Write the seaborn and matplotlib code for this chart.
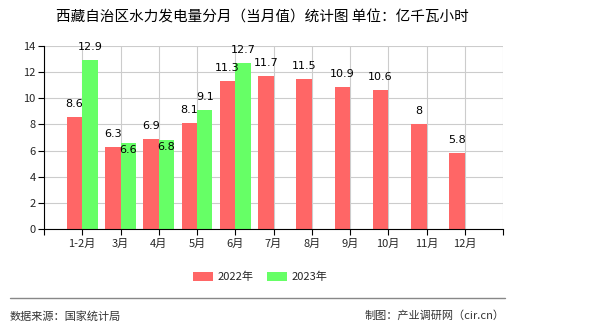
import matplotlib
matplotlib.use("Agg")
import matplotlib.pyplot as plt
import seaborn as sns
import pandas as pd
import numpy as np
from matplotlib.lines import Line2D

categories = ["1-2月", "3月", "4月", "5月", "6月", "7月", "8月", "9月", "10月", "11月", "12月"]
values_2022 = [8.6, 6.3, 6.9, 8.1, 11.3, 11.7, 11.5, 10.9, 10.6, 8, 5.8]
values_2023 = [12.9, 6.6, 6.8, 9.1, 12.7, None, None, None, None, None, None]
series_names = ["2022年", "2023年"]
colors = ["#ff6666", "#66ff66"]

sns.set_theme(style="white")
plt.rcParams['font.family'] = ['Noto Sans CJK SC', 'DejaVu Sans']
plt.rcParams['axes.unicode_minus'] = False

rows = []
for c, v in zip(categories, values_2022):
    rows.append({"月份": c, "值": v, "年份": series_names[0]})
for c, v in zip(categories, values_2023):
    rows.append({"月份": c, "值": np.nan if v is None else v, "年份": series_names[1]})
df = pd.DataFrame(rows)

fig = plt.figure(figsize=(5.9, 3.3), dpi=100)
ax = fig.add_axes([44/590, 1-229/330, (503-44)/590, (229-46)/330])

sns.barplot(data=df, x="月份", y="值", hue="年份", order=categories,
            hue_order=series_names, palette=colors, width=0.8,
            saturation=1, ax=ax, legend=False, errorbar=None, linewidth=0)

ax.set_xlim(-1, len(categories))
ax.set_ylim(0, 14)
ax.set_yticks(np.arange(0, 15, 2))
ax.set_xticks(np.arange(-1, len(categories) + 1))
ax.set_xticklabels([""] + categories + [""], fontsize=8)
ax.tick_params(axis="y", labelsize=8, length=4, width=0.8, color="black", pad=2, left=True)
ax.tick_params(axis="x", length=4, width=0.8, color="black", pad=3, bottom=True)
ax.set_xlabel("")
ax.set_ylabel("")
ax.grid(True, color="#cccccc", linewidth=0.8)
ax.set_axisbelow(True)
for s in ["top", "right"]:
    ax.spines[s].set_visible(False)
for s in ["left", "bottom"]:
    ax.spines[s].set_color("black")
    ax.spines[s].set_linewidth(0.8)

# data labels
containers = ax.containers
red_vals = values_2022
for ci, cont in enumerate(containers):
    vals = values_2022 if ci == 0 else values_2023
    for i, (p, v) in enumerate(zip(cont.patches, vals)):
        if v is None or np.isnan(p.get_height()):
            continue
        x = p.get_x() + p.get_width() / 2
        y = p.get_height()
        lab = f"{v:g}"
        if ci == 1 and abs(v - red_vals[i]) < 1:
            off = -7
        else:
            off = 13
        ax.annotate(lab, (x, y), xytext=(0, off), textcoords="offset pixels",
                    ha="center", va="center", fontsize=8, color="black",
                    family=["DejaVu Sans"])

fig.text(262/590, 1-17/330, "西藏自治区水力发电量分月（当月值）统计图 单位：亿千瓦小时",
         ha="center", va="center", fontsize=10.5, color="black")

handles = [plt.Rectangle((0, 0), 1, 1, color=c, linewidth=0) for c in colors]
fig.legend(handles, series_names, loc="center", bbox_to_anchor=(260/590, 1-277/330),
           ncol=2, frameon=False, fontsize=8, handlelength=1.8, handleheight=0.8,
           columnspacing=1.2, handletextpad=0.4)

fig.add_artist(Line2D([10/590, 505/590], [1-298/330, 1-298/330], color="#888888", linewidth=1))
fig.text(10/590, 1-316/330, "数据来源：国家统计局", ha="left", va="center", fontsize=8, color="#333333")
fig.text(505/590, 1-316/330, "制图：产业调研网（cir.cn）", ha="right", va="center", fontsize=8, color="#333333")

fig.savefig("out.png", dpi=100, facecolor="white")
